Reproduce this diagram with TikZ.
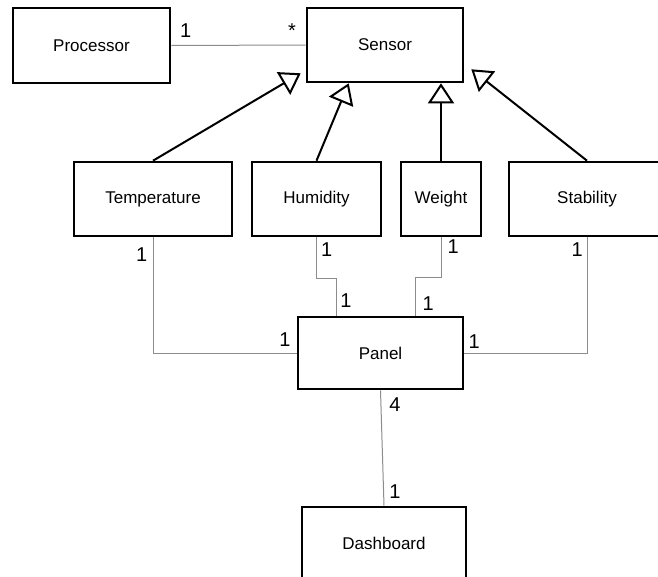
\documentclass[tikz,border=0pt]{standalone}
\usepackage{fontspec}
\setmainfont{Liberation Sans}
\usetikzlibrary{arrows.meta,calc}
\begin{document}
\begin{tikzpicture}[x=1pt,y=-1pt]
    \tikzstyle{every node}+=[inner sep=0pt]
    \tikzstyle{cls}=[draw=black, line width=2.6pt, font=\fontsize{17}{20}\selectfont]
    \tikzstyle{mult}=[anchor=base, font=\fontsize{20}{23}\selectfont]
    \tikzstyle{assoc}=[draw=black!45, line width=1pt]
    \tikzstyle{isa}=[draw=black, line width=2pt, -{Triangle[open,length=20pt,width=26pt]}]
    \clip (0,0) rectangle (658,576);
    \node [cls, minimum width=157pt, minimum height=75pt] (processor) at (91.5,45.5) {Processor};
    \node [cls, minimum width=156pt, minimum height=74pt] (sensor) at (385,45) {Sensor};
    \node [cls, minimum width=158pt, minimum height=74pt] (temperature) at (153,199) {Temperature};
    \node [cls, minimum width=129pt, minimum height=74pt] (humidity) at (316.5,199) {Humidity};
    \node [cls, minimum width=80pt, minimum height=74pt] (weight) at (441,199) {Weight};
    \node [cls, minimum width=156pt, minimum height=74pt] (stability) at (587,199) {Stability};
    \node [cls, minimum width=165pt, minimum height=72pt] (panel) at (380.5,353) {Panel};
    \node [cls, minimum width=164pt, minimum height=73pt] (dashboard) at (384,543.5) {Dashboard};
    % generalisation
    \draw [isa] (temperature.north) -- ($(sensor.south west)+(-5,-10)$);
    \draw [isa] (humidity.north) -- ($(sensor.south west)+(43,0)$);
    \draw [isa] (weight.north) -- (weight.north |- sensor.south);
    \draw [isa] (stability.north) -- ($(sensor.south east)+(7,-14)$);
    % associations
    \draw [assoc] (processor.east) -- (sensor.west);
    \draw [assoc] (temperature.south) |- (panel.west);
    \draw [assoc] (humidity.south) -- ++(0,41) -| ($(panel.north)+(-44,0)$);
    \draw [assoc] (weight.south) -- ++(0,40) -| ($(panel.north)+(35,0)$);
    \draw [assoc] (stability.south) |- (panel.east);
    \draw [assoc] (panel.south) -- (dashboard.north);
    % multiplicities
    \node [mult] (m-proc) at (185.7,37.3) {1};
    \node [mult] (m-sens) at (292,37.3) {*};
    \node [mult] (m-temp) at (141.7,261.7) {1};
    \node [mult] (m-ptemp) at (285,346) {1};
    \node [mult] (m-humi) at (326.7,256.7) {1};
    \node [mult] (m-phumi) at (346,307.3) {1};
    \node [mult] (m-weig) at (453.3,253.3) {1};
    \node [mult] (m-pweig) at (428.3,310) {1};
    \node [mult] (m-stab) at (577.3,256.7) {1};
    \node [mult] (m-pstab) at (474.3,348.3) {1};
    \node [mult] (m-pdash) at (395,411.7) {4};
    \node [mult] (m-dash) at (395,498.3) {1};
\end{tikzpicture}
\end{document}
